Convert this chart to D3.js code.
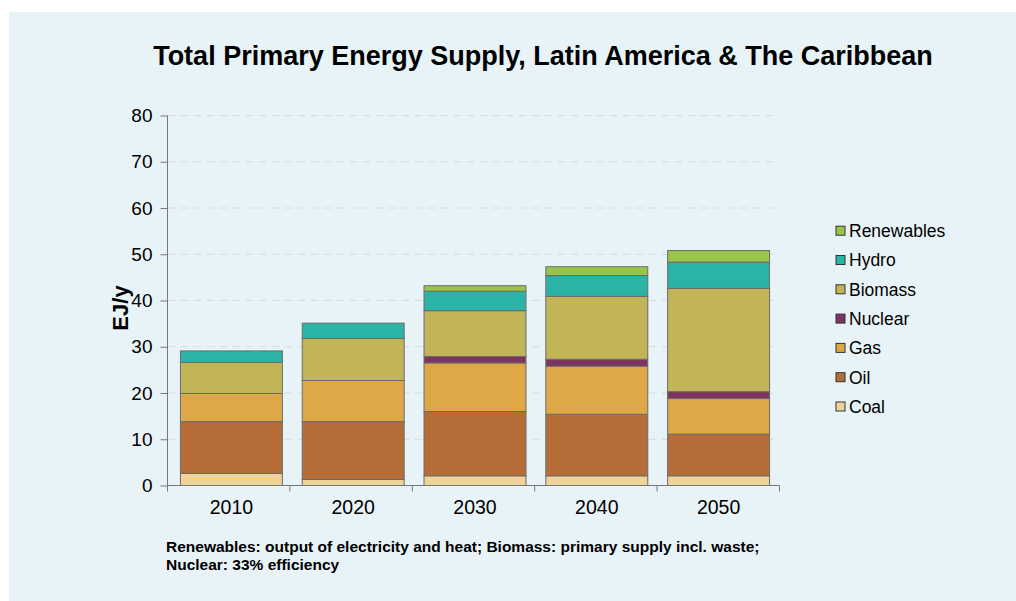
<!DOCTYPE html>
<html><head><meta charset="utf-8">
<script src="https://cdn.jsdelivr.net/npm/d3@7/dist/d3.min.js"></script>
<style>body{margin:0;background:#fff;}svg{display:block;font-family:"Liberation Sans",Arial,sans-serif;}</style>
</head><body><svg id="c" width="1016" height="601"></svg>
<script>
const years = ["2010","2020","2030","2040","2050"];
const seriesNames = ["Coal","Oil","Gas","Nuclear","Biomass","Hydro","Renewables"];
const coal       = [2.6, 1.3, 2.1, 2.1, 2.1];
const oil        = [11.2, 12.5, 13.9, 13.3, 9.0];
const gas        = [6.1, 8.9, 10.5, 10.4, 7.7];
const nuclear    = [0, 0, 1.4, 1.5, 1.5];
const biomass    = [6.7, 9.1, 9.9, 13.6, 22.3];
const hydro      = [2.5, 3.3, 4.2, 4.5, 5.7];
const renewables = [0, 0, 1.2, 1.9, 2.5];
const yTicks = [0,10,20,30,40,50,60,70,80];
const colors = {Coal:"#f0d397",Oil:"#b66d37",Gas:"#dfa847",Nuclear:"#7c3461",Biomass:"#c2b557",Hydro:"#2bb3a6",Renewables:"#99c44c"};
const title = "Total Primary Energy Supply, Latin America & The Caribbean";
const yLabel = "EJ/y";
const note1 = "Renewables: output of electricity and heat; Biomass: primary supply incl. waste;";
const note2 = "Nuclear: 33% efficiency";

const valuesBy = {Coal:coal,Oil:oil,Gas:gas,Nuclear:nuclear,Biomass:biomass,Hydro:hydro,Renewables:renewables};
const table = years.map((y,i)=>{const o={year:y}; seriesNames.forEach(s=>o[s]=valuesBy[s][i]); return o;});

const svg = d3.select("#c");
svg.append("rect").attr("x",9).attr("y",12).attr("width",1007).attr("height",589).attr("fill","#e8f3f8");

const m = {l:167.5, r:779.5, t:115.5, b:485.5};
const x = d3.scaleBand().domain(years).range([170.5,m.r]).paddingInner(0.163).paddingOuter(0.0815);
const xb = d3.scaleBand().domain(years).range([m.l,m.r]);
const y = d3.scaleLinear().domain([0,80]).range([m.b,m.t]);

// grid
svg.append("g").selectAll("line").data(yTicks.filter(d=>d>0)).join("line")
  .attr("x1",m.l).attr("x2",776).attr("y1",d=>y(d)).attr("y2",d=>y(d))
  .attr("stroke","#d6dcdc").attr("stroke-width",1).attr("stroke-dasharray","8,5");

// bars
const stack = d3.stack().keys(seriesNames)(table);
svg.append("g").selectAll("g").data(stack).join("g")
  .attr("fill",d=>colors[d.key])
  .selectAll("rect").data(d=>d.filter(p=>p[1]-p[0]>0)).join("rect")
  .attr("x",d=>x(d.data.year)).attr("width",x.bandwidth())
  .attr("y",d=>y(d[1])).attr("height",d=>y(d[0])-y(d[1]))
  .attr("stroke","#6b6b6b").attr("stroke-width",1);

// y axis
const ya = svg.append("g").attr("transform",`translate(${m.l},0)`)
  .call(d3.axisLeft(y).tickValues(yTicks).tickSize(7).tickPadding(8));
ya.selectAll("text").attr("font-size",19).attr("fill","#000").attr("font-family","Liberation Sans, Arial, sans-serif");
ya.selectAll("line").attr("stroke","#777");
ya.select(".domain").attr("stroke","#777").attr("d",`M-0,${m.t}V${m.b}`);

// x axis
const xa = svg.append("g").attr("transform",`translate(0,${m.b})`);
xa.append("line").attr("x1",m.l).attr("x2",m.r).attr("stroke","#777");
const bounds = [m.l].concat(years.map(d=>xb(d)+xb.bandwidth()));
xa.selectAll("line.t").data(bounds).join("line").attr("class","t")
  .attr("x1",d=>d).attr("x2",d=>d).attr("y1",0).attr("y2",6).attr("stroke","#777");
xa.selectAll("text").data(years).join("text")
  .attr("x",d=>x(d)+x.bandwidth()/2).attr("y",28)
  .attr("text-anchor","middle").attr("font-size",19.5).attr("fill","#000").text(d=>d);

// title
svg.append("text").attr("x",543).attr("y",65).attr("text-anchor","middle")
  .attr("font-size",27).attr("font-weight","bold").attr("fill","#000").text(title);
// y label
svg.append("text").attr("transform","translate(128,308) rotate(-90)").attr("text-anchor","middle")
  .attr("font-size",22).attr("font-weight","bold").attr("fill","#000").text(yLabel);

// legend
const leg = svg.append("g");
const legOrder = seriesNames.slice().reverse();
legOrder.forEach((s,i)=>{
  const cy = 230.7 + i*29.3;
  leg.append("rect").attr("x",836).attr("y",cy-4.5).attr("width",9).attr("height",9)
    .attr("fill",colors[s]).attr("stroke","#333").attr("stroke-width",1);
  leg.append("text").attr("x",849).attr("y",cy+6.3).attr("font-size",17.5).attr("fill","#000").text(s);
});

// notes
svg.append("text").attr("x",166).attr("y",552).attr("font-size",15.5).attr("font-weight","bold").attr("fill","#000").text(note1);
svg.append("text").attr("x",166).attr("y",570).attr("font-size",15.5).attr("font-weight","bold").attr("fill","#000").text(note2);
</script></body></html>
